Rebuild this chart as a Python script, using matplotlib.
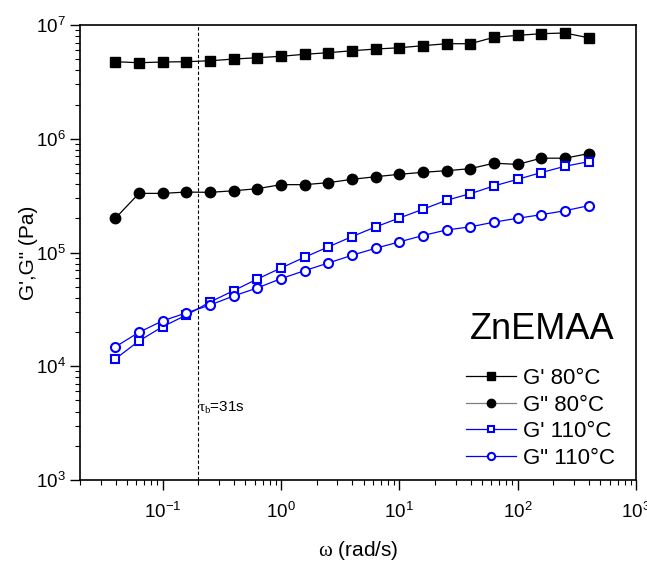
import matplotlib
matplotlib.use("Agg")
import matplotlib.pyplot as plt
from matplotlib.ticker import LogLocator, NullFormatter

plt.rcParams['font.family'] = ['Liberation Sans', 'DejaVu Sans']
plt.rcParams['mathtext.fontset'] = 'custom'
plt.rcParams['mathtext.rm'] = 'Liberation Sans'
plt.rcParams['mathtext.it'] = 'Liberation Serif'

# ----------------------
# DATOS
# ----------------------
omega = [0.0398, 0.0631, 0.1, 0.158, 0.251, 0.398, 0.631, 1.0, 1.58, 2.51, 3.98,
         6.31, 10.0, 15.8, 25.1, 39.8, 63.1, 100.0, 158.0, 251.0, 398.0]

g1_80 = [4.76e6, 4.66e6, 4.73e6, 4.76e6, 4.85e6, 5.02e6, 5.16e6, 5.31e6, 5.53e6, 5.71e6, 5.94e6,
         6.15e6, 6.31e6, 6.58e6, 6.85e6, 6.85e6, 7.80e6, 8.11e6, 8.39e6, 8.51e6, 7.72e6]
g2_80 = [2.0e5, 3.31e5, 3.31e5, 3.40e5, 3.38e5, 3.49e5, 3.64e5, 3.95e5, 3.95e5, 4.11e5, 4.40e5,
         4.64e5, 4.87e5, 5.07e5, 5.24e5, 5.46e5, 6.1e5, 5.95e5, 6.75e5, 6.75e5, 7.4e5]
g1_110 = [1.16e4, 1.67e4, 2.23e4, 2.81e4, 3.67e4, 4.62e4, 5.85e4, 7.31e4, 9.08e4, 1.12e5, 1.38e5,
          1.68e5, 2.01e5, 2.40e5, 2.88e5, 3.29e5, 3.85e5, 4.40e5, 5.04e5, 5.73e5, 6.29e5]
g2_110 = [1.48e4, 1.99e4, 2.51e4, 2.94e4, 3.45e4, 4.15e4, 4.88e4, 5.89e4, 6.92e4, 8.09e4, 9.45e4,
          1.09e5, 1.24e5, 1.41e5, 1.58e5, 1.68e5, 1.85e5, 2.0e5, 2.15e5, 2.33e5, 2.58e5]

etiquetas = ["G' 80°C", 'G" 80°C', "G' 110°C", 'G" 110°C']
tau_b = 0.2

# ----------------------
# FIGURA
# ----------------------
fig = plt.figure(figsize=(6.47, 5.61), dpi=100)
ax = fig.add_axes([0.1236, 0.1444, 0.983 - 0.1236, 0.9554 - 0.1444])

ax.plot(omega, g1_80, '-s', color='black', lw=0.9, ms=7, label=etiquetas[0])
ax.plot(omega, g2_80, '-o', color='black', mfc='black', mec='black', lw=0.9, ms=7.5,
        label=etiquetas[1])
ax.plot(omega, g1_110, '-s', color='blue', lw=0.9, ms=5.5, mfc='white', mew=1.5, label=etiquetas[2])
ax.plot(omega, g2_110, '-o', color='blue', lw=0.9, ms=6.5, mfc='white', mew=1.5, label=etiquetas[3])

ax.axvline(tau_b, color='black', ls=(0, (3, 2)), lw=0.8)
ax.text(tau_b * 0.99, 4.3e3, r'$\tau_b$=31s', fontsize=11, ha='left', va='center')

ax.set_xscale('log')
ax.set_yscale('log')
ax.set_xlim(0.02, 1000)
ax.set_ylim(1e3, 1e7)

ax.xaxis.set_major_locator(LogLocator(base=10, numticks=10))
ax.xaxis.set_minor_locator(LogLocator(base=10, subs=range(2, 10), numticks=20))
ax.yaxis.set_minor_locator(LogLocator(base=10, subs=range(2, 10), numticks=20))
ax.xaxis.set_minor_formatter(NullFormatter())
ax.yaxis.set_minor_formatter(NullFormatter())
ax.tick_params(which='major', direction='out', length=7, width=1, labelsize=13.5,
               top=False, right=False)
ax.tick_params(axis='x', which='major', pad=9)
ax.tick_params(axis='y', which='major', pad=3)
ax.tick_params(which='minor', direction='out', length=3.5, width=0.8,
               top=False, right=False)
for s in ax.spines.values():
    s.set_linewidth(1.2)

ax.set_xlabel(r'$\omega$ (rad/s)', fontsize=15, labelpad=12)
ax.set_ylabel('G\',G" (Pa)', fontsize=15, labelpad=-1)

ax.text(0.962, 0.33, 'ZnEMAA', transform=ax.transAxes, fontsize=26,
        ha='right', va='center')
leg = ax.legend(loc='lower right', bbox_to_anchor=(0.962, 0.025), frameon=False,
                fontsize=16, handlelength=2.25, handletextpad=0.3, labelspacing=0.25,
                markerscale=0.8, borderpad=0, borderaxespad=0)
leg.get_lines()[1].set_color('gray')

plt.savefig('out.png', dpi=100)
